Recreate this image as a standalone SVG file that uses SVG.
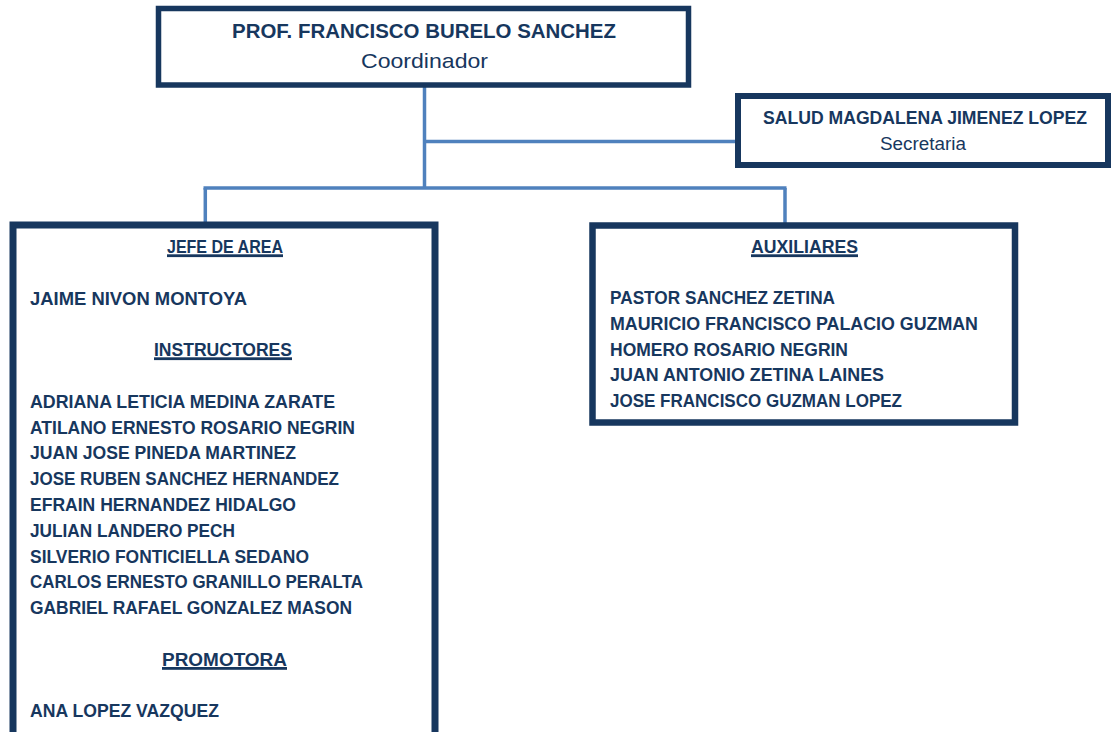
<svg xmlns="http://www.w3.org/2000/svg" width="1111" height="732" viewBox="0 0 1111 732">
<style>
.box{fill:#FFFFFF;stroke:#17375E;}
.conn{fill:none;stroke:#4F81BD;stroke-width:3.5;stroke-linecap:butt;}
.b{font-family:"Liberation Sans",Arial,sans-serif;font-weight:bold;fill:#17375E;}
.r{font-family:"Liberation Sans",Arial,sans-serif;font-weight:normal;fill:#17375E;}
.n{font-size:17.5px;}
.ul{fill:#17375E;}
</style>
<rect width="1111" height="732" fill="#FFFFFF"/>
<g id="connectors">
<line class="conn" x1="424.5" y1="86" x2="424.5" y2="188"/>
<line class="conn" x1="424.5" y1="141.5" x2="737" y2="141.5"/>
<line class="conn" x1="203.5" y1="188" x2="786.5" y2="188"/>
<line class="conn" x1="205.3" y1="188" x2="205.3" y2="223"/>
<line class="conn" x1="785" y1="188" x2="785" y2="224"/>
</g>
<g id="coordinador">
<rect class="box" x="158.5" y="8.5" width="530" height="76.5" stroke-width="5.5"/>
<text class="b" x="232" y="38" font-size="21" textLength="384" lengthAdjust="spacingAndGlyphs">PROF. FRANCISCO BURELO SANCHEZ</text>
<text class="r" x="361" y="68" font-size="21" textLength="127" lengthAdjust="spacingAndGlyphs">Coordinador</text>
</g>
<g id="secretaria">
<rect class="box" x="738" y="96" width="370" height="69" stroke-width="6"/>
<text class="b" x="763" y="124" font-size="17.5" textLength="324" lengthAdjust="spacingAndGlyphs">SALUD MAGDALENA JIMENEZ LOPEZ</text>
<text class="r" x="880" y="150" font-size="17.5" textLength="86" lengthAdjust="spacingAndGlyphs">Secretaria</text>
</g>
<g id="jefe-de-area">
<rect class="box" x="13" y="225" width="422" height="540" stroke-width="7"/>
<text class="b n" x="167" y="253" textLength="116" lengthAdjust="spacingAndGlyphs">JEFE DE AREA</text>
<rect class="ul" x="167" y="254.3" width="116" height="2.8"/>
<text class="b n" x="30" y="305" textLength="217" lengthAdjust="spacingAndGlyphs">JAIME NIVON MONTOYA</text>
<text class="b n" x="154" y="356" textLength="138" lengthAdjust="spacingAndGlyphs">INSTRUCTORES</text>
<rect class="ul" x="154" y="357.3" width="138" height="2.8"/>
<text class="b n" x="30" y="408" textLength="305" lengthAdjust="spacingAndGlyphs">ADRIANA LETICIA MEDINA ZARATE</text>
<text class="b n" x="30" y="434" textLength="325" lengthAdjust="spacingAndGlyphs">ATILANO ERNESTO ROSARIO NEGRIN</text>
<text class="b n" x="30" y="459" textLength="266" lengthAdjust="spacingAndGlyphs">JUAN JOSE PINEDA MARTINEZ</text>
<text class="b n" x="30" y="485" textLength="309" lengthAdjust="spacingAndGlyphs">JOSE RUBEN SANCHEZ HERNANDEZ</text>
<text class="b n" x="30" y="511" textLength="266" lengthAdjust="spacingAndGlyphs">EFRAIN HERNANDEZ HIDALGO</text>
<text class="b n" x="30" y="537" textLength="205" lengthAdjust="spacingAndGlyphs">JULIAN LANDERO PECH</text>
<text class="b n" x="30" y="563" textLength="279" lengthAdjust="spacingAndGlyphs">SILVERIO FONTICIELLA SEDANO</text>
<text class="b n" x="30" y="588" textLength="333" lengthAdjust="spacingAndGlyphs">CARLOS ERNESTO GRANILLO PERALTA</text>
<text class="b n" x="30" y="614" textLength="322" lengthAdjust="spacingAndGlyphs">GABRIEL RAFAEL GONZALEZ MASON</text>
<text class="b n" x="162" y="666" textLength="125" lengthAdjust="spacingAndGlyphs">PROMOTORA</text>
<rect class="ul" x="162" y="667" width="125" height="2.8"/>
<text class="b n" x="30" y="717" textLength="189" lengthAdjust="spacingAndGlyphs">ANA LOPEZ VAZQUEZ</text>
</g>
<g id="auxiliares">
<rect class="box" x="592.5" y="225.5" width="422.5" height="197" stroke-width="6.5"/>
<text class="b n" x="751" y="253" textLength="107" lengthAdjust="spacingAndGlyphs">AUXILIARES</text>
<rect class="ul" x="751" y="254.3" width="107" height="2.8"/>
<text class="b n" x="610" y="304" textLength="225" lengthAdjust="spacingAndGlyphs">PASTOR SANCHEZ ZETINA</text>
<text class="b n" x="610" y="330" textLength="368" lengthAdjust="spacingAndGlyphs">MAURICIO FRANCISCO PALACIO GUZMAN</text>
<text class="b n" x="610" y="356" textLength="238" lengthAdjust="spacingAndGlyphs">HOMERO ROSARIO NEGRIN</text>
<text class="b n" x="610" y="381" textLength="274" lengthAdjust="spacingAndGlyphs">JUAN ANTONIO ZETINA LAINES</text>
<text class="b n" x="610" y="407" textLength="292" lengthAdjust="spacingAndGlyphs">JOSE FRANCISCO GUZMAN LOPEZ</text>
</g>
</svg>
